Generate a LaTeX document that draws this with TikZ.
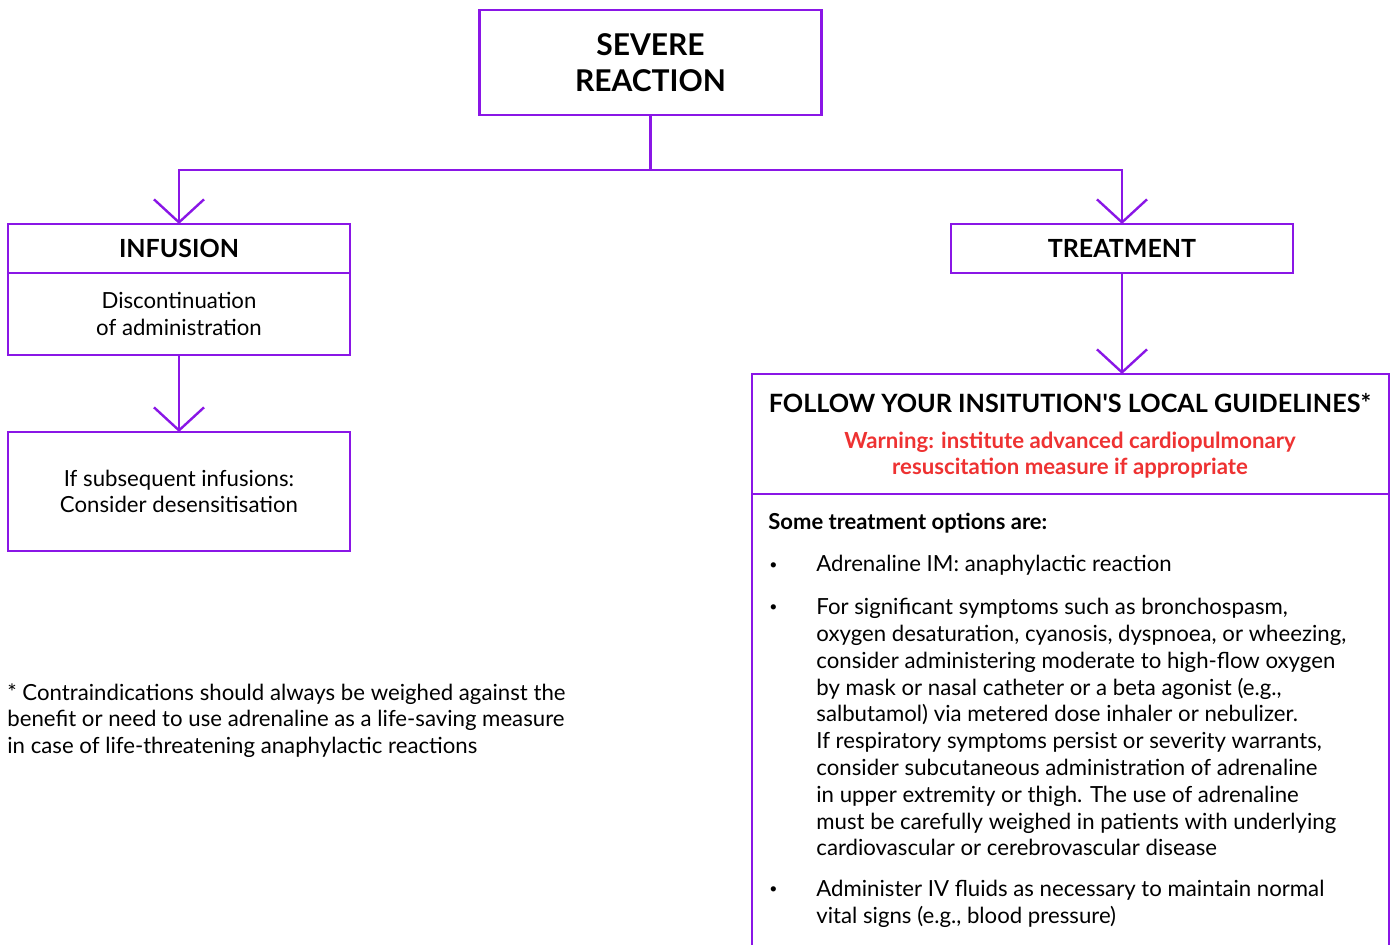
\documentclass[tikz,border=0pt]{standalone}
\usepackage{fontspec}
\setmainfont{Lato}
\usetikzlibrary{arrows.meta, positioning}
\definecolor{flowpurple}{RGB}{138,22,230}
\definecolor{warnred}{RGB}{238,50,50}
\tikzset{
	box/.style={draw=flowpurple, line width=1.2pt, minimum width=171pt, inner sep=0pt, outer sep=0pt, align=center},
	flow/.style={draw=flowpurple, line width=1.2pt},
	arrow/.style={flow, -{Straight Barb[length=11.5pt, width=25pt]}},
	body/.style={font=\fontsize{11.1}{13.4}\selectfont, inner sep=0pt},
	item/.style={body, align=left},
	head/.style={font=\bfseries\fontsize{12.5}{15}\selectfont}
}

\begin{document}
\begin{tikzpicture}[x=0.5pt, y=-0.5pt]

		\useasboundingbox (0,0) rectangle (1393,944);
		\clip (0,0) rectangle (1393,944);

		% top of the tree
		\node (severe) [box, minimum height=52.5pt, font=\bfseries\fontsize{15}{18}\selectfont] at (650.5,62.5) {SEVERE\\REACTION};
		\coordinate (split) at (650.5,170);

		% left branch
		\node (infusion) [box, head, minimum height=24.5pt] at (179,248.5) {INFUSION};
		\node (discont) [box, body, align=center, minimum width=171pt, minimum height=41pt, below=0pt of infusion] {Discontinuation\\of administration};
		\node (desens) [box, body, align=center, minimum width=171pt, minimum height=59.5pt] at (179,491.5) {If subsequent infusions:\\Consider desensitisation};

		% right branch
		\node (treatment) [box, head, minimum height=24.5pt] at (1122,248.5) {TREATMENT};
		\node (guide) [box, minimum width=318.5pt, minimum height=60pt] at (1070.5,434) {};
		\node (title) [font=\bfseries\fontsize{12.6}{14}\selectfont, inner sep=0pt] at (1070,403) {FOLLOW YOUR INSITUTION\textquotesingle S LOCAL GUIDELINES*};
		\node (warn) [font=\bfseries\fontsize{11.1}{13}\selectfont, text=warnred, align=center, inner sep=0pt] at (1070,455) {Warning: institute advanced cardiopulmonary\\resuscitation measure if appropriate};
		\draw[flow] (guide.south west) -- (guide.south west |- 0,960);
		\draw[flow] (guide.south east) -- (guide.south east |- 0,960);

		\node (lead) [font=\bfseries\fontsize{11}{13}\selectfont, anchor=west, inner sep=0pt] at (768,523) {Some treatment options are:};
		\node (opt1) [item, anchor=west] at (816,565) {Adrenaline IM: anaphylactic reaction};
		\node (opt2) [item, anchor=north west] at (816,598) {For significant symptoms such as bronchospasm,\\oxygen desaturation, cyanosis, dyspnoea, or wheezing,\\consider administering moderate to high-flow oxygen\\by mask or nasal catheter or a beta agonist (e.g.,\\salbutamol) via metered dose inhaler or nebulizer.\\If respiratory symptoms persist or severity warrants,\\consider subcutaneous administration of adrenaline\\in upper extremity or thigh. The use of adrenaline\\must be carefully weighed in patients with underlying\\cardiovascular or cerebrovascular disease};
		\node (opt3) [item, anchor=north west] at (816,880) {Administer IV fluids as necessary to maintain normal\\vital signs (e.g., blood pressure)};
		\foreach \y/\n in {566/1, 608/2, 890/3}
			\node (bullet\n) [font=\fontsize{7}{7}\selectfont, inner sep=0pt, anchor=west] at (769,\y) {\textbullet};

		% footnote
		\node (note) [item, anchor=north west] at (7,683) {* Contraindications should always be weighed against the\\benefit or need to use adrenaline as a life-saving measure\\in case of life-threatening anaphylactic reactions};

		% connectors
		\draw[flow] (severe.south) -- (split);
		\draw[arrow] (split) -| (infusion.north);
		\draw[arrow] (split) -| (treatment.north);
		\draw[arrow] (discont.south) -- (desens.north);
		\draw[arrow] (treatment.south) -- (treatment.south |- guide.north);

	\end{tikzpicture}
\end{document}
